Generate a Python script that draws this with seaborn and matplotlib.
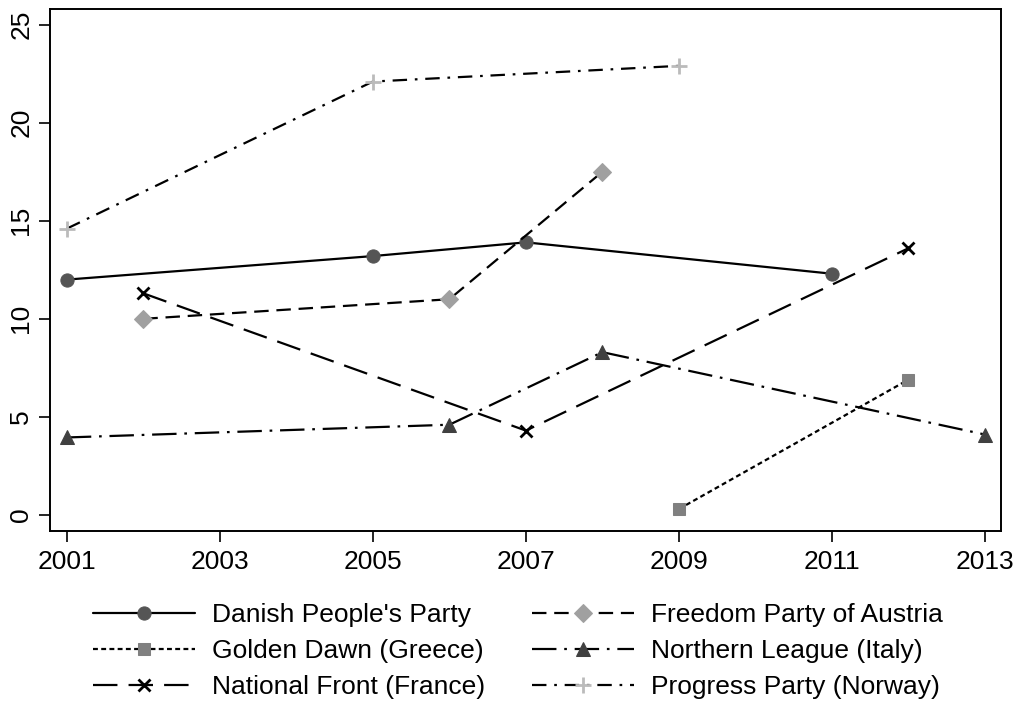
import matplotlib
matplotlib.use("Agg")
import matplotlib.pyplot as plt
import seaborn as sns
import pandas as pd

sns.set_theme(style="white")
plt.rcParams["font.family"] = ["Liberation Sans", "DejaVu Sans"]
plt.rcParams["text.color"] = "black"

# Vote share (%) by election year
danish_years = [2001, 2005, 2007, 2011]
danish_vals = [12.0, 13.2, 13.9, 12.3]

freedom_years = [2002, 2006, 2008]
freedom_vals = [10.0, 11.0, 17.5]

golden_years = [2009, 2012]
golden_vals = [0.3, 6.9]

league_years = [2001, 2006, 2008, 2013]
league_vals = [3.95, 4.6, 8.3, 4.1]

front_years = [2002, 2007, 2012]
front_vals = [11.3, 4.3, 13.6]

progress_years = [2001, 2005, 2009]
progress_vals = [14.6, 22.1, 22.9]

x_ticks = [2001, 2003, 2005, 2007, 2009, 2011, 2013]
y_ticks = [0, 5, 10, 15, 20, 25]

series = [
    ("Danish People's Party", danish_years, danish_vals,
     dict(marker="o", ms=9.5, mfc="#555555", mec="#555555", dashes=())),
    ("Golden Dawn (Greece)", golden_years, golden_vals,
     dict(marker="s", ms=9, mfc="#808080", mec="#808080", dashes=(2.2, 1.5))),
    ("National Front (France)", front_years, front_vals,
     dict(marker="x", ms=9, mew=2, mfc="black", mec="black", dashes=(11, 5))),
    ("Freedom Party of Austria", freedom_years, freedom_vals,
     dict(marker="D", ms=9, mfc="#a0a0a0", mec="#a0a0a0", dashes=(6.5, 3.5))),
    ("Northern League (Italy)", league_years, league_vals,
     dict(marker="^", ms=10.5, mfc="#404040", mec="#404040", dashes=(11, 3.5, 1.2, 3.5))),
    ("Progress Party (Norway)", progress_years, progress_vals,
     dict(marker="+", ms=11, mew=2, mfc="#bbbbbb", mec="#bbbbbb", dashes=(6.5, 3.5, 1.2, 3.5))),
]

fig = plt.figure(figsize=(10.2, 7.06), dpi=100)
# frame: x 50..1001 px, y 9..531 px
ax = fig.add_axes([50 / 1020, 1 - 531 / 706, 951 / 1020, 522 / 706])

handles = []
for name, yrs, vals, st in series:
    df = pd.DataFrame({"year": yrs, "share": vals})
    dashes = st.pop("dashes")
    sns.lineplot(data=df, x="year", y="share", ax=ax, color="black",
                 linewidth=1.6, label=name, legend=False, **st)
    line = ax.lines[-1]
    if dashes:
        line.set_dashes(dashes)
    handles.append(line)

ax.set_xlim(2000.78, 2013.21)
ax.set_ylim(-0.82, 25.8)
ax.set_xticks(x_ticks)
ax.set_yticks(y_ticks)
ax.set_xticklabels([str(t) for t in x_ticks], fontsize=19)
ax.set_yticklabels([str(t) for t in y_ticks], fontsize=19, rotation=90, va="center")
ax.set_xlabel("")
ax.set_ylabel("")
ax.tick_params(axis="both", which="major", direction="out", length=8, width=1.2,
               color="black", labelcolor="black", bottom=True, left=True)
ax.tick_params(axis="x", pad=6)
ax.tick_params(axis="y", pad=4)
for sp in ax.spines.values():
    sp.set_color("black")
    sp.set_linewidth(1.4)

fig.legend(handles=handles, labels=[s[0] for s in series], ncol=2,
           loc="center left", bbox_to_anchor=(93 / 1020, 1 - 651 / 706), frameon=False,
           fontsize=19, handlelength=3.86, handletextpad=0.64, columnspacing=1.78,
           numpoints=1, labelspacing=0.46, borderaxespad=0, borderpad=0)

fig.savefig("out.png", dpi=100)
